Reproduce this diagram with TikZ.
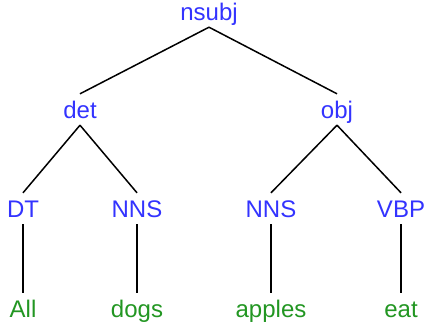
\documentclass[tikz,border=0pt]{standalone}
\usepackage{fontspec}
\setmainfont{Liberation Sans}
\definecolor{tagblue}{RGB}{51,51,255}
\definecolor{wordgreen}{RGB}{34,150,34}
\begin{document}
\begin{tikzpicture}[x=1pt,y=-1pt,
  lbl/.style={anchor=base,font=\fontsize{24}{28}\selectfont,text height=17pt,text depth=0pt,inner xsep=0pt,inner ysep=7pt},
  tag/.style={lbl,text=tagblue},
  word/.style={lbl,text=wordgreen},
  edge/.style={draw=black,line width=1.5pt}]
\useasboundingbox (0,0) rectangle (425,327);
\node[tag] (nsubj) at (209,20) {nsubj};
\node[tag] (det) at (80,118) {det};
\node[tag] (obj) at (337,118) {obj};
\node[tag] (dt) at (23,217) {DT};
\node[tag] (nns1) at (137,217) {NNS};
\node[tag] (nns2) at (271,217) {NNS};
\node[tag] (vbp) at (401,217) {VBP};
\node[word] (all) at (23,317) {All};
\node[word] (dogs) at (137,317) {dogs};
\node[word] (apples) at (271,317) {apples};
\node[word] (eat) at (401,317) {eat};
\draw[edge] (nsubj.south) -- (det.north);
\draw[edge] (nsubj.south) -- (obj.north);
\draw[edge] (det.south) -- (dt.north);
\draw[edge] (det.south) -- (nns1.north);
\draw[edge] (obj.south) -- (nns2.north);
\draw[edge] (obj.south) -- (vbp.north);
\draw[edge] (dt.south) -- (all.north);
\draw[edge] (nns1.south) -- (dogs.north);
\draw[edge] (nns2.south) -- (apples.north);
\draw[edge] (vbp.south) -- (eat.north);
\end{tikzpicture}
\end{document}
